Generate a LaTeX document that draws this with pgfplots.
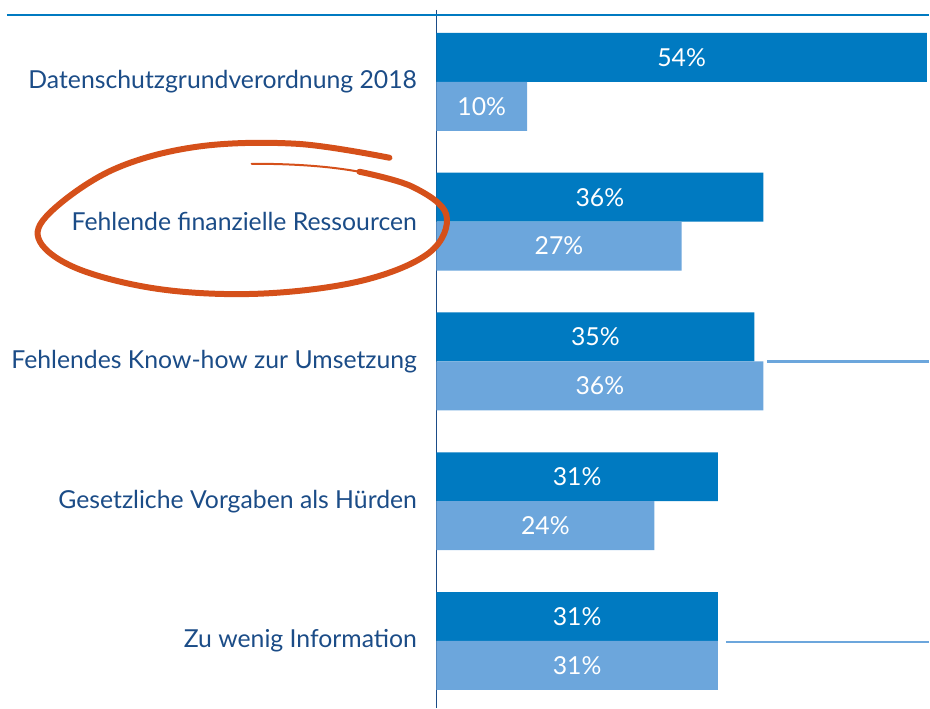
\documentclass[border=0pt]{standalone}
\usepackage{fontspec}
\setmainfont{Lato}
\usepackage{pgfplots}
\pgfplotsset{compat=1.18}
\usepackage{pgfplotstable}

\definecolor{darkbar}{RGB}{0,122,193}
\definecolor{lightbar}{RGB}{108,166,220}
\definecolor{navytxt}{RGB}{27,76,135}
\definecolor{circ}{RGB}{213,80,26}

% c = category index (0 = top), dark = first series, light = second series
\pgfplotstableread{
c dark light
0 54 10
1 36 27
2 35 36
3 31 24
4 31 31
}\hemmnisse

\begin{document}
\begin{tikzpicture}
\begin{axis}[
  scale only axis,
  width=246.5pt, height=349.5pt,
  xmin=0, xmax=54.18,
  ymin=-0.514, ymax=4.479,
  y dir=reverse,
  axis x line=none,
  axis y line*=left,
  axis line style={draw=navytxt, line width=0.6pt},
  ytick={0,1,2,3,4},
  yticklabels={Datenschutzgrundverordnung 2018,
    Fehlende finanzielle Ressourcen,
    Fehlendes Know-how zur Umsetzung,
    Gesetzliche Vorgaben als Hürden,
    Zu wenig Information},
  major tick length=0pt,
  yticklabel style={font=\fontsize{12.4}{14}\selectfont, text=navytxt, inner sep=0pt, xshift=-9.5pt},
  /pgf/number format/assume math mode=true,
  clip=false,
]
\addplot[xbar, bar width=0.35, bar shift=0pt, fill=darkbar, draw=none]
  table[x=dark, y expr=\thisrow{c}-0.175] {\hemmnisse};
\addplot[xbar, bar width=0.35, bar shift=0pt, fill=lightbar, draw=none]
  table[x=light, y expr=\thisrow{c}+0.175] {\hemmnisse};

\addplot[only marks, mark=none, point meta=\thisrow{dark},
  nodes near coords={\pgfmathprintnumber[fixed,precision=0]{\pgfplotspointmeta}\%},
  every node near coord/.style={anchor=center, text=white, font=\fontsize{12.4}{14}\selectfont}]
  table[x expr={min(\thisrow{dark},54.18)/2}, y expr=\thisrow{c}-0.175] {\hemmnisse};
\addplot[only marks, mark=none, point meta=\thisrow{light},
  nodes near coords={\pgfmathprintnumber[fixed,precision=0]{\pgfplotspointmeta}\%},
  every node near coord/.style={anchor=center, text=white, font=\fontsize{12.4}{14}\selectfont}]
  table[x expr={\thisrow{light}/2}, y expr=\thisrow{c}+0.175] {\hemmnisse};
\end{axis}

\begin{scope}[shift={(current axis.north west)}, x=0.5pt, y=-0.5pt, shift={(-437,-10)}]
  \path (0,0) rectangle (930,708);
  % top rule
  \draw[darkbar, line width=1.1pt] (7,15) -- (930,15);
  % stray light rules on the right
  \draw[lightbar, line width=1.4pt] (768,362) -- (930,362);
  \draw[lightbar, line width=1.4pt] (727,643) -- (930,643);
  % hand drawn circle
  \draw[circ, line width=3pt, line cap=round] plot[smooth, tension=0.6] coordinates {
    (390,158) (297,144) (197,147) (113,170) (50,213) (40,242) (80,270)
    (163,290) (263,294) (363,281) (430,253) (447,215) (413,187) (360,172)};
  \draw[circ, line width=1pt, line cap=round] (365,173) .. controls (330,166) and (290,164) .. (252,164);
\end{scope}
\end{tikzpicture}
\end{document}
